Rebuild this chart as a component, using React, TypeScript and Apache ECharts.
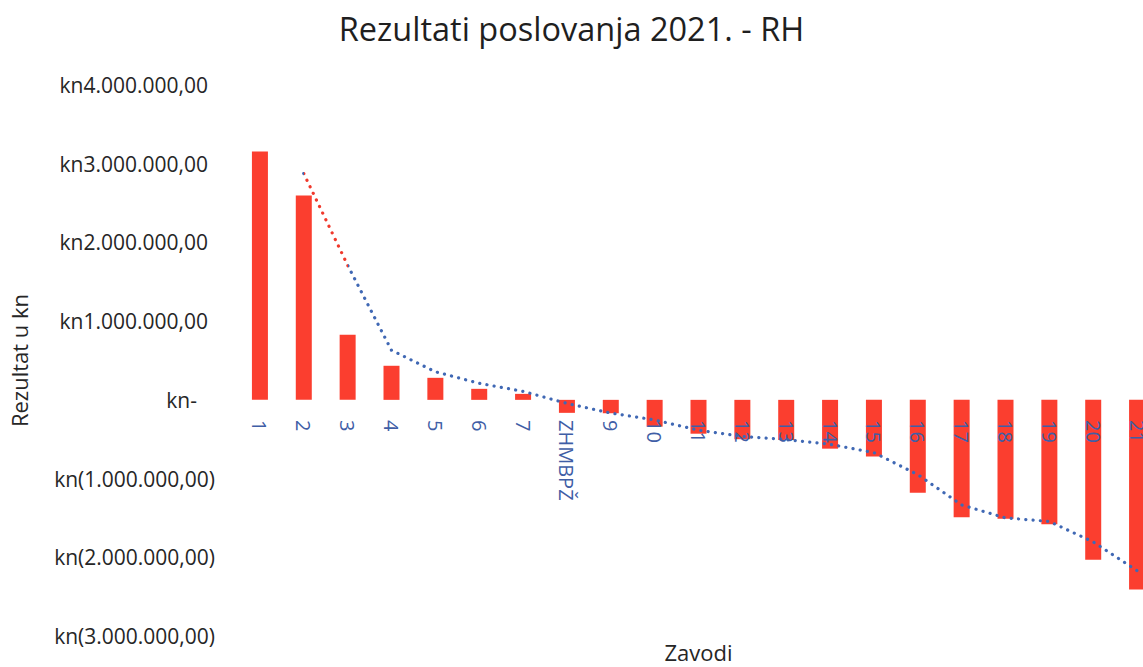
import React, { useEffect, useRef } from "react";
import * as echarts from "echarts";

const titleText = "Rezultati poslovanja 2021. - RH";
const categories = ["1", "2", "3", "4", "5", "6", "7", "ZHMBPŽ", "9", "10", "11", "12", "13", "14", "15", "16", "17", "18", "19", "20", "21"];
const results = [3155000, 2595000, 827000, 433000, 280000, 140000, 76000, -165000, -170000, -340000, -430000, -500000, -510000, -620000, -720000, -1180000, -1490000, -1510000, -1580000, -2030000, -2410000];
const trendValues = [null, 2875000, 1710000, 630000, 357000, 210000, 108000, -45000, -168000, -255000, -385000, -465000, -505000, -565000, -670000, -950000, -1335000, -1500000, -1545000, -1805000, -2170000];
const yTicks = { min: -3000000, max: 4000000, interval: 1000000 };
const yAxisName = "Rezultat u kn";
const xAxisName = "Zavodi";

const FONT = "'Open Sans', 'Noto Sans', sans-serif";

function fmtKn(v: number): string {
  const s = Math.round(v).toString().replace(/\B(?=(\d{3})+(?!\d))/g, ".");
  return s + ",00";
}

export default function App() {
  const ref = useRef<HTMLDivElement>(null);
  useEffect(() => {
    if (!ref.current) return;
    const chart = echarts.init(ref.current, null, { renderer: "svg" });
    const labelBase = { fontFamily: FONT, fontSize: 21, color: "#262626" };
    chart.setOption({
      animation: false,
      backgroundColor: "#ffffff",
      title: {
        text: titleText,
        left: "center",
        top: 7,
        textStyle: { fontFamily: FONT, fontSize: 32.5, fontWeight: "normal", color: "#1f1f1f" },
      },
      grid: { left: 238, right: -16, top: 85, bottom: 31, containLabel: false, outerBoundsMode: "none" },
      xAxis: {
        type: "category",
        data: categories,
        z: 5,
        position: "bottom",
        offset: -236,
        name: xAxisName,
        nameLocation: "middle",
        nameGap: 241,
        nameTextStyle: { fontFamily: FONT, fontSize: 22, color: "#262626" },
        axisLine: { show: true, onZero: false, lineStyle: { color: "rgba(0,0,0,0)" } },
        axisTick: { show: false },
        axisLabel: {
          rotate: -90,
          margin: 20,
          interval: 0,
          fontFamily: FONT,
          fontSize: 20,
          color: "#3f5ea6",
        },
        splitLine: { show: false },
      },
      yAxis: {
        type: "value",
        min: yTicks.min,
        max: yTicks.max,
        interval: yTicks.interval,
        name: yAxisName,
        nameLocation: "middle",
        nameGap: 208,
        nameTextStyle: { fontFamily: FONT, fontSize: 22, color: "#262626" },
        axisLine: { show: false },
        axisTick: { show: false },
        splitLine: { show: false },
        axisLabel: {
          margin: 23,
          formatter: (v: number) => {
            if (v > 0) return `{p|kn${fmtKn(v)}}`;
            if (v === 0) return `{z|kn-}`;
            return `{n|kn(${fmtKn(-v)})}`;
          },
          rich: {
            p: { ...labelBase, padding: [0, 7, 0, 0] },
            z: { ...labelBase, padding: [0, 18, 0, 0] },
            n: { ...labelBase },
          },
          ...labelBase,
        },
      },
      visualMap: {
        type: "piecewise",
        show: false,
        seriesIndex: 1,
        dimension: 0,
        pieces: [
          { lt: 1.2, color: "#4068b4" },
          { gte: 1.2, lt: 1.65, color: "#f0392c" },
          { gte: 1.65, color: "#4068b4" },
        ],
      },
      series: [
        {
          type: "bar",
          data: results,
          barWidth: 16,
          itemStyle: { color: "#fb3e2f" },
          z: 2,
        },
        {
          type: "line",
          data: trendValues,
          showSymbol: false,
          symbol: "none",
          z: 3,
          lineStyle: { width: 3.2, type: [0.1, 7.2], cap: "round" },
        },
      ],
    });
    return () => chart.dispose();
  }, []);
  return (
    <div
      ref={ref}
      style={{ position: "fixed", left: 0, top: 0, width: 1143, height: 667, background: "#fff" }}
    />
  );
}
